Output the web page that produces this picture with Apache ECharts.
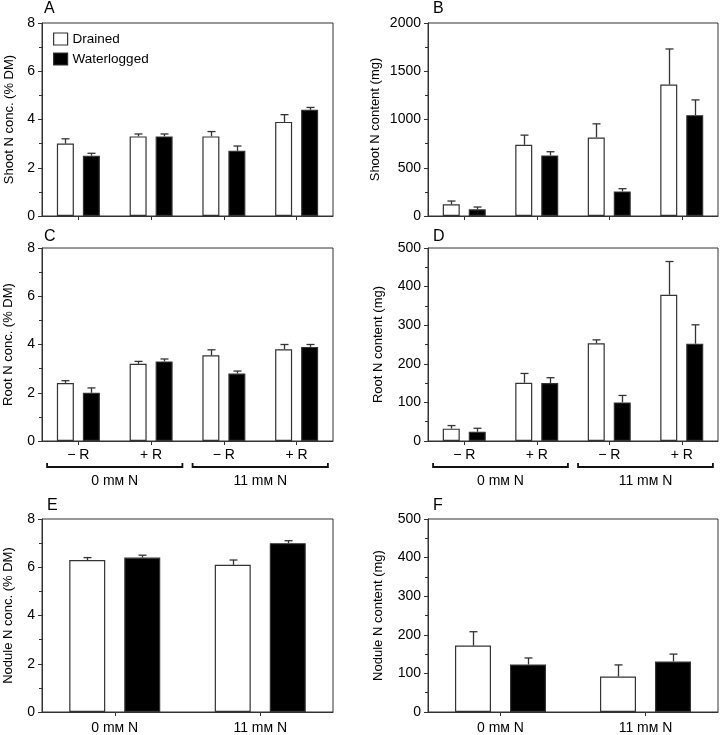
<!DOCTYPE html>
<html><head><meta charset="utf-8">
<script src="https://cdn.jsdelivr.net/npm/echarts@6/dist/echarts.min.js"></script>
<style>html,body{margin:0;padding:0;background:#fff}#c{width:723px;height:735px}</style>
</head><body><div id="c"></div>
<script>
// ---- categories / labels ----
const treatLabels = ['\u2212 R', '+ R', '\u2212 R', '+ R'];
const nLabels = ['0 m\u1D0D N', '11 m\u1D0D N'];
const seriesNames = ['Drained', 'Waterlogged'];
const panelLetters = ['A', 'B', 'C', 'D', 'E', 'F'];
const yNames = ['Shoot N conc. (% DM)', 'Shoot N content (mg)', 'Root N conc. (% DM)',
                'Root N content (mg)', 'Nodule N conc. (% DM)', 'Nodule N content (mg)'];
const yMax = [8, 2000, 8, 500, 8, 500];
const yInterval = [2, 500, 2, 100, 2, 100];

// ---- values (means) and standard errors ----
const shootConcDrained = [3.0, 3.3, 3.3, 3.9];
const shootConcDrainedSE = [0.2, 0.1, 0.2, 0.3];
const shootConcWater = [2.5, 3.3, 2.7, 4.4];
const shootConcWaterSE = [0.1, 0.1, 0.2, 0.1];

const shootContDrained = [121, 738, 814, 1362];
const shootContDrainedSE = [34, 100, 141, 369];
const shootContWater = [69, 628, 255, 1045];
const shootContWaterSE = [24, 38, 28, 158];

const rootConcDrained = [2.4, 3.2, 3.55, 3.8];
const rootConcDrainedSE = [0.1, 0.1, 0.23, 0.2];
const rootConcWater = [2.0, 3.3, 2.8, 3.9];
const rootConcWaterSE = [0.2, 0.1, 0.1, 0.1];

const rootContDrained = [32, 151, 253, 379];
const rootContDrainedSE = [8, 24, 9, 86];
const rootContWater = [24, 150, 100, 252];
const rootContWaterSE = [9, 14, 18, 49];

const noduleConcDrained = [6.3, 6.1];
const noduleConcDrainedSE = [0.1, 0.2];
const noduleConcWater = [6.4, 7.0];
const noduleConcWaterSE = [0.1, 0.1];

const noduleContDrained = [172, 92];
const noduleContDrainedSE = [36, 30];
const noduleContWater = [123, 131];
const noduleContWaterSE = [17, 19];

const panels = [
  [shootConcDrained, shootConcDrainedSE, shootConcWater, shootConcWaterSE],
  [shootContDrained, shootContDrainedSE, shootContWater, shootContWaterSE],
  [rootConcDrained, rootConcDrainedSE, rootConcWater, rootConcWaterSE],
  [rootContDrained, rootContDrainedSE, rootContWater, rootContWaterSE],
  [noduleConcDrained, noduleConcDrainedSE, noduleConcWater, noduleConcWaterSE],
  [noduleContDrained, noduleContDrainedSE, noduleContWater, noduleContWaterSE]
];

// ---- layout / style ----
const FONT = 'Liberation Sans, Arial, Helvetica, sans-serif';
const INK = '#333';
const gridRects = [
  {left: 42, top: 23, width: 291, height: 193},
  {left: 428, top: 23, width: 290, height: 193},
  {left: 42, top: 248, width: 291, height: 193},
  {left: 428, top: 248, width: 290, height: 193},
  {left: 42, top: 519, width: 291, height: 193},
  {left: 428, top: 519, width: 290, height: 193}
];
const nameGaps = [26, 46, 27, 43, 27, 43];
const letterPos = [[44, 1], [433, 1], [44, 229], [433, 229], [47, 498], [433, 498]];

const chart = echarts.init(document.getElementById('c'), null, {renderer: 'canvas'});

const grid = gridRects.map(r => Object.assign({show: true, borderColor: INK, borderWidth: 1,
  backgroundColor: 'transparent', outerBoundsMode: 'none', containLabel: false}, r));

const xAxis = [];
const yAxis = [];
const series = [];

for (let p = 0; p < 6; p++) {
  const twoCat = p >= 4;
  const cats = twoCat ? nLabels : treatLabels;
  xAxis.push({
    gridIndex: p, type: 'category', data: cats, position: 'bottom',
    axisLine: {show: true, lineStyle: {color: INK, width: 1}},
    axisTick: {show: true, alignWithLabel: true, length: 4, lineStyle: {color: INK}},
    axisLabel: {show: p >= 2, color: '#000', fontFamily: FONT, fontSize: 14, margin: twoCat ? 9 : 7},
    splitLine: {show: false}
  });
  yAxis.push({
    gridIndex: p, type: 'value', min: 0, max: yMax[p], interval: yInterval[p],
    name: yNames[p], nameLocation: 'middle', nameGap: nameGaps[p],
    nameTextStyle: {color: '#000', fontFamily: FONT, fontSize: 13},
    axisLine: {show: true, lineStyle: {color: INK, width: 1}},
    axisTick: {show: true, length: 4, lineStyle: {color: INK}},
    minorTick: {show: true, splitNumber: 2, length: 3, lineStyle: {color: INK}},
    axisLabel: {color: '#000', fontFamily: FONT, fontSize: 14, margin: 7, formatter: v => String(v)},
    splitLine: {show: false}, minorSplitLine: {show: false}
  });
  const barW = twoCat ? 36 : 17;
  const gapPx = twoCat ? 19 : 9;
  const off = (barW + gapPx) / 2;
  const d = panels[p];
  [0, 1].forEach(s => {
    const vals = d[s * 2];
    const ses = d[s * 2 + 1];
    series.push({
      name: seriesNames[s], type: 'bar', xAxisIndex: p, yAxisIndex: p,
      data: vals, barWidth: barW, barGap: (gapPx / barW * 100).toFixed(1) + '%',
      itemStyle: {color: s === 0 ? '#fff' : '#000', borderColor: INK, borderWidth: 1.2},
      emphasis: {disabled: true}, silent: true, z: 2
    });
    const side = s === 0 ? -1 : 1;
    series.push({
      type: 'custom', xAxisIndex: p, yAxisIndex: p, z: 3, silent: true,
      data: vals.map((v, i) => [i, v, v + ses[i]]),
      renderItem: (params, api) => {
        const c0 = api.coord([api.value(0), api.value(1)]);
        const c1 = api.coord([api.value(0), api.value(2)]);
        const x = Math.round(c0[0] + side * off) + 0.5;
        return {type: 'group', children: [
          {type: 'line', shape: {x1: x, y1: c0[1], x2: x, y2: c1[1]}, style: {stroke: INK, lineWidth: 1.3}},
          {type: 'line', shape: {x1: x - 4, y1: c1[1], x2: x + 4, y2: c1[1]}, style: {stroke: INK, lineWidth: 1.3}}
        ]};
      }
    });
  });
}
// group-label axes for panels C and D
[2, 3].forEach(g => {
  xAxis.push({
    gridIndex: g, type: 'category', data: nLabels, position: 'bottom', offset: 26,
    axisLine: {show: false}, axisTick: {show: false},
    axisLabel: {color: '#000', fontFamily: FONT, fontSize: 14, margin: 7},
    splitLine: {show: false}
  });
});

const graphic = panelLetters.map((t, i) => ({
  type: 'text', left: letterPos[i][0], top: letterPos[i][1],
  style: {text: t, fill: '#000', font: '16px ' + FONT}
}));

chart.setOption({
  animation: false,
  backgroundColor: '#fff',
  grid, xAxis, yAxis, series,
  legend: {
    data: [
      {name: 'Drained', itemStyle: {color: '#fff', borderColor: INK, borderWidth: 1.2}},
      {name: 'Waterlogged', itemStyle: {color: '#000', borderColor: INK, borderWidth: 1.2}}
    ],
    orient: 'vertical', left: 53, top: 32, padding: 0, itemWidth: 14, itemHeight: 12, itemGap: 6,
    icon: 'rect', selectedMode: false,
    textStyle: {color: '#000', fontFamily: FONT, fontSize: 13.5, padding: [0, 0, 0, 0]}
  },
  graphic
});

// brackets under panels C and D, computed from the category axis positions
[2, 3].forEach(g => {
  const pts = [0, 1, 2, 3].map(i => chart.convertToPixel({xAxisIndex: g}, i));
  const band = pts[1] - pts[0];
  const yBase = chart.convertToPixel({yAxisIndex: g}, 0) + 26;
  [[0, 1], [2, 3]].forEach(([a, b]) => {
    const x1 = pts[a] - 0.43 * band;
    const x2 = pts[b] + 0.43 * band;
    graphic.push({
      type: 'polyline', shape: {points: [[x1, yBase - 4], [x1, yBase], [x2, yBase], [x2, yBase - 4]]},
      style: {stroke: '#111', lineWidth: 1.8, fill: null}
    });
  });
});
chart.setOption({graphic});
</script></body></html>
